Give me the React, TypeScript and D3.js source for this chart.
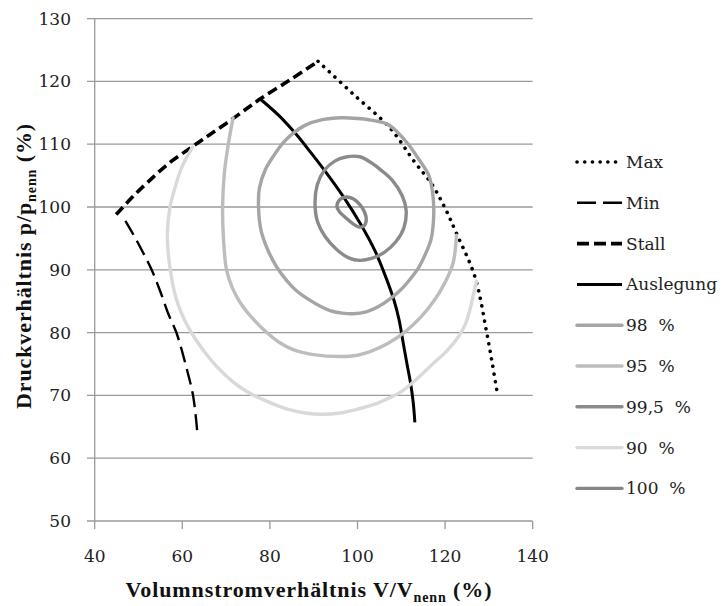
import React from "react";
import * as d3 from "d3";

type P = [number, number];

const xTicks = [40, 60, 80, 100, 120, 140];
const yTicks = [50, 60, 70, 80, 90, 100, 110, 120, 130];

const maxLine: P[] = [[91, 123.2], [99, 118], [107.4, 112.6], [113, 107.2], [117, 103.6], [120, 99.8], [122.6, 95.8], [126.8, 88.9], [129.5, 80], [130.8, 75], [132, 70]];
const minLine: P[] = [[47, 97.8], [49, 95.4], [51, 92.8], [53, 90], [55, 86.5], [56.8, 83], [58.7, 79.9], [60.8, 74.8], [62.5, 69.8], [63.4, 64.3]];
const stallLine: P[] = [[44.9, 98.8], [48.5, 101.5], [52.2, 104], [57, 107], [62.3, 109.6], [66, 111.4], [70, 113.3], [74, 115.3], [78, 117.3], [84.5, 120.2], [91, 123.2]];
const auslegungLine: P[] = [[77.8, 117.2], [82.3, 114.4], [86.1, 111.5], [89.3, 108.7], [92.6, 105.7], [96.8, 101.6], [100.6, 97.4], [104, 93], [106.7, 88.4], [108.4, 85], [109.5, 82], [110.4, 78.5], [111.3, 75], [112.1, 72], [112.7, 69], [113.1, 65.7]];
const c98: P[] = [[77.4, 100], [77.6, 103], [79, 106], [81, 108.3], [83, 110.2], [85.4, 111.8], [88, 113], [92, 113.9], [96.3, 114.2], [100, 114.1], [102.6, 113.9], [106.8, 113.2], [109, 112], [111.6, 110], [114, 107.6], [116.3, 105], [117.2, 102], [117.4, 98.6], [116.8, 94.9], [115.5, 92.5], [114, 90.4], [112, 88.5], [110, 86.9], [107.5, 85.4], [104.7, 84.1], [102, 83.3], [99, 83], [96.5, 83.1], [94.2, 83.4], [91.5, 84.2], [89, 85.2], [86, 86.7], [83.7, 88.4], [81.5, 90.5], [79.5, 93.2], [78, 96.2]];
const c95: P[] = [[71.6, 114.2], [70.5, 110], [69.6, 105.4], [69.2, 100], [69.4, 95], [70.1, 90], [71.5, 87], [73.2, 84.8], [76, 82.3], [79.3, 80], [82, 78.5], [85.3, 77.3], [90, 76.5], [96, 76.2], [100, 76.4], [103, 77], [107, 78.3], [111, 80.2], [114.5, 82.5], [117.5, 85.1], [120, 88], [121.8, 91], [122.6, 95.5]];
const c995: P[] = [[90.3, 100.5], [90.8, 103.5], [92.4, 105.8], [94.8, 107.3], [97.6, 108], [100.5, 108], [102.8, 107.2], [105.5, 105.8], [108, 104.2], [110.2, 101.8], [111.1, 99.5], [110.6, 96.7], [108.8, 94.5], [106.2, 92.8], [103.2, 91.8], [100.5, 91.5], [98, 91.9], [95.3, 93.2], [92.6, 95.3], [90.9, 97.6]];
const c90: P[] = [[62.3, 109.5], [60, 106.5], [58.3, 103], [57.2, 100], [56.6, 96], [56.8, 92.5], [57.6, 88.5], [58.7, 85.2], [60.5, 82], [62.5, 79.5], [64.8, 77.2], [68, 74.5], [71.5, 72.2], [75, 70.5], [79.5, 69], [84, 67.8], [88, 67.2], [92, 67], [96, 67.2], [100, 67.8], [104, 68.6], [107, 69.5], [110, 70.6], [113.5, 72.6], [117, 74.9], [120.4, 77.1], [123, 79.3], [124.6, 81.3], [125.8, 84], [126.6, 86.5], [127.2, 88.2]];
const c100: P[] = [[95.3, 100.2], [96, 101.2], [97.5, 101.6], [99, 101.3], [100.5, 100.4], [101.6, 99.2], [102, 98], [101.5, 97], [100.4, 96.8], [99, 97.3], [97.3, 98.3], [95.8, 99.3]];

const legendLabels = ["Max", "Min", "Stall", "Auslegung", "98\u00a0\u00a0%", "95\u00a0\u00a0%", "99,5\u00a0\u00a0%", "90\u00a0\u00a0%", "100\u00a0\u00a0%"];

const GRID = "#9a9a9a";
const FONT = "DejaVu Serif";
const BOLD = "Liberation Serif";

interface Series { data: P[]; closed: boolean; color: string; width: number; dash?: string; cap: string; legendDash?: string; }

const series: Series[] = [
  { data: maxLine, closed: false, color: "#000", width: 3.6, dash: "0.1,7.6", cap: "round", legendDash: "0.1,7.6" },
  { data: minLine, closed: false, color: "#000", width: 2.4, dash: "16,7", cap: "butt", legendDash: "19,7" },
  { data: stallLine, closed: false, color: "#000", width: 3.6, dash: "10,5", cap: "butt", legendDash: "12,5" },
  { data: auslegungLine, closed: false, color: "#000", width: 3, cap: "butt" },
  { data: c98, closed: true, color: "#a5a5a5", width: 3.4, cap: "round" },
  { data: c95, closed: false, color: "#bdbdbd", width: 3.4, cap: "round" },
  { data: c995, closed: true, color: "#8b8b8b", width: 3.4, cap: "round" },
  { data: c90, closed: false, color: "#d9d9d9", width: 3.4, cap: "round" },
  { data: c100, closed: true, color: "#868686", width: 3.4, cap: "round" },
];

export default function App() {
  const x = d3.scaleLinear().domain([40, 140]).range([94.7, 532.7]);
  const y = d3.scaleLinear().domain([50, 130]).range([521, 18.6]);
  const open = d3.line<P>().x(d => x(d[0])).y(d => y(d[1])).curve(d3.curveCatmullRom.alpha(0.5));
  const closed = d3.line<P>().x(d => x(d[0])).y(d => y(d[1])).curve(d3.curveCatmullRomClosed.alpha(0.5));
  const legX0 = 577, legX1 = 622, legY0 = 162, legDy = 40.8;
  const tf = { fontFamily: FONT };
  const bf = { fontFamily: BOLD, letterSpacing: "0.9px" };
  return (
    <svg width={724} height={606} style={{ position: "absolute", left: 0, top: 0, background: "#fff" }}>
      <rect width={724} height={606} fill="#fff" />
      {yTicks.map(t => (
        <line key={"g" + t} x1={87} x2={x(140)} y1={y(t)} y2={y(t)} stroke={GRID} strokeWidth={1.3} />
      ))}
      <line x1={x(40)} x2={x(40)} y1={y(130)} y2={y(50)} stroke={GRID} strokeWidth={1.3} />
      {xTicks.map(t => (
        <line key={"xt" + t} x1={x(t)} x2={x(t)} y1={y(50)} y2={y(50) + 8} stroke={GRID} strokeWidth={1.3} />
      ))}
      {yTicks.map(t => (
        <text key={"yl" + t} x={71} y={y(t)} dy="0.35em" textAnchor="end" style={tf} fontSize={17} fill="#222">{t}</text>
      ))}
      {xTicks.map(t => (
        <text key={"xl" + t} x={x(t)} y={556} dy="0.35em" textAnchor="middle" style={tf} fontSize={17} fill="#222">{t}</text>
      ))}
      {series.map((s, i) => (
        <path key={"s" + i} d={(s.closed ? closed : open)(s.data) || ""} fill="none" stroke={s.color} strokeWidth={s.width}
          strokeDasharray={s.dash} strokeLinecap={s.cap as any} strokeLinejoin="round" />
      ))}
      {series.map((s, i) => (
        <g key={"l" + i}>
          <line x1={legX0} x2={legX1} y1={legY0 + i * legDy} y2={legY0 + i * legDy} stroke={s.color} strokeWidth={s.width}
            strokeDasharray={s.legendDash} strokeLinecap={s.cap as any} />
          <text x={legX1 + 4} y={legY0 + i * legDy} dy="0.35em" style={tf} fontSize={17} fill="#222">{legendLabels[i]}</text>
        </g>
      ))}
      <text x={309} y={589} dy="0.35em" textAnchor="middle" style={bf} fontSize={22} fontWeight="bold" fill="#111">
        Volumnstromverhältnis V/V<tspan fontSize={14} dy="5">nenn</tspan><tspan dy="-5"> (%)</tspan>
      </text>
      <text transform="translate(23,266) rotate(-90)" textAnchor="middle" dy="0.35em" style={bf} fontSize={22} fontWeight="bold" fill="#111">
        Druckverhältnis p/p<tspan fontSize={14} dy="5">nenn</tspan><tspan dy="-5"> (%)</tspan>
      </text>
    </svg>
  );
}
